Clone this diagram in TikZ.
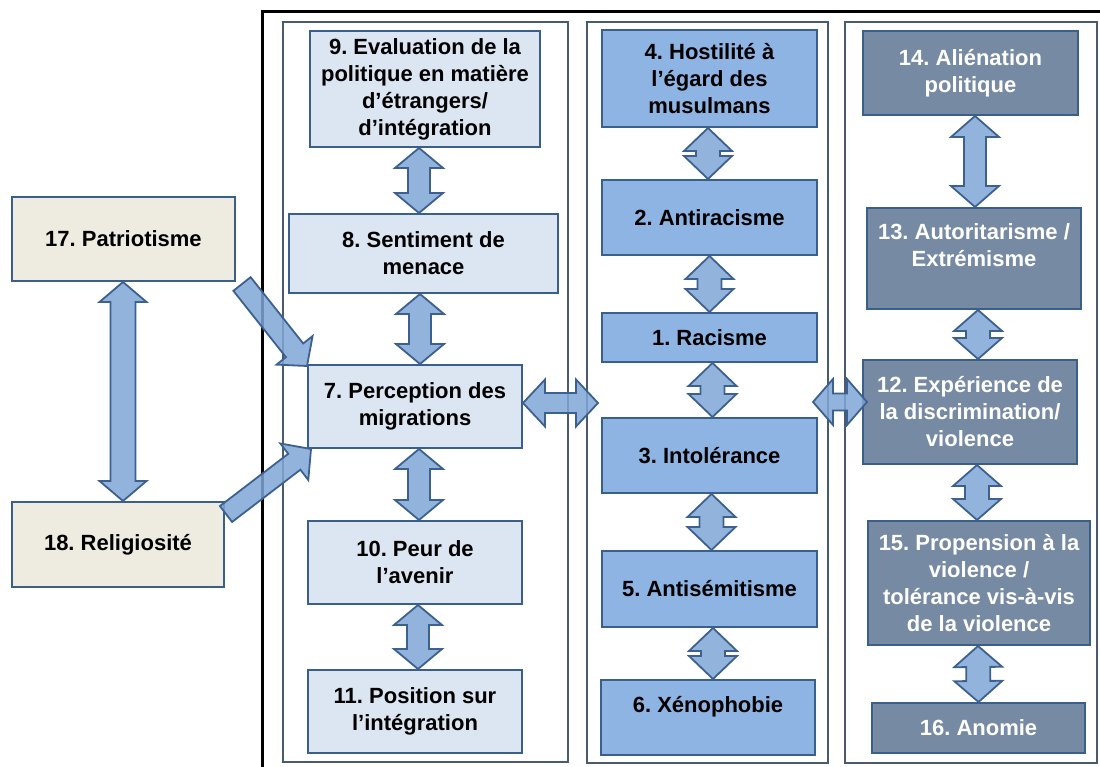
\documentclass[tikz,border=0pt]{standalone}
\usepackage{fontspec}
\setmainfont{Liberation Sans}
\usetikzlibrary{calc}
\definecolor{colAfill}{HTML}{DCE6F2}
\definecolor{colBfill}{HTML}{8EB4E3}
\definecolor{colCfill}{HTML}{768AA3}
\definecolor{tanfill}{HTML}{EEECE1}
\definecolor{boxline}{HTML}{3A5F8B}
\definecolor{arrowfill}{HTML}{7FA6D6}
\definecolor{arrowline}{HTML}{3C6190}
\definecolor{framecol}{HTML}{4A5B70}
\tikzset{
  bx/.style={draw=boxline, line width=2pt, inner sep=0pt, align=center,
    font=\frenchspacing\bfseries\fontsize{22}{27}\selectfont},
  bxA/.style={bx, fill=colAfill},
  bxB/.style={bx, fill=colBfill},
  bxC/.style={bx, fill=colCfill, text=white},
  bxD/.style={bx, fill=tanfill},
  colframe/.style={draw=framecol, line width=2pt, inner sep=0pt},
  barrow/.style={draw=arrowline, line width=1.8pt, fill=arrowfill, fill opacity=0.85, line join=miter},
}
% box: name, style, left, top, right, bottom, text
\newcommand{\bx}[7]{\node[#2, minimum width={#5pt-#3pt}, minimum height={#6pt-#4pt}] (#1) at ({(#3+#5)/2},{(#4+#6)/2}) {#7};}
% double block arrow: from, to, head length, head half width, shaft half width
\newcommand{\barr}[5]{%
  \coordinate (baA) at #1; \coordinate (baB) at #2;
  \coordinate (ba1) at ($(baA)!#3!(baB)$);
  \coordinate (ba2) at ($(baB)!#3!(baA)$);
  \draw[barrow] (baA) -- ($(ba1)!#4!90:(baB)$) -- ($(ba1)!#5!90:(baB)$) -- ($(ba2)!#5!-90:(baA)$) -- ($(ba2)!#4!-90:(baA)$) -- (baB) -- ($(ba2)!#4!90:(baA)$) -- ($(ba2)!#5!90:(baA)$) -- ($(ba1)!#5!-90:(baB)$) -- ($(ba1)!#4!-90:(baB)$) -- cycle;}
% single block arrow: tail, tip, head length, head half width, shaft half width
\newcommand{\sarr}[5]{%
  \coordinate (saT) at #1; \coordinate (saP) at #2;
  \coordinate (sa1) at ($(saP)!#3!(saT)$);
  \draw[barrow] ($(saT)!#5!90:(saP)$) -- ($(sa1)!#5!-90:(saT)$) -- ($(sa1)!#4!-90:(saT)$) -- (saP) -- ($(sa1)!#4!90:(saT)$) -- ($(sa1)!#5!90:(saT)$) -- ($(saT)!#5!-90:(saP)$) -- cycle;}
\begin{document}
\begin{tikzpicture}[x=1pt, y=-1pt]
\useasboundingbox[fill=white] (0,0) rectangle (1100,767);
% outer black frame (open at right and bottom)
\draw[line width=3pt] (262,780) -- (262,12) -- (1110,12);
% column frames
\bx{col1}{colframe}{283}{22}{568}{762}{}
\bx{col2}{colframe}{587}{22}{828}{763}{}
\bx{col3}{colframe}{845}{22}{1097}{763}{}
% left boxes
\bx{n17}{bxD}{12}{197}{235}{281}{17. Patriotisme}
\bx{n18}{bxD}{12}{502}{224}{587}{18. Religiosité}
% column 1
\bx{n9}{bxA}{310}{31}{540}{147}{9. Evaluation de la\\politique en matière\\d’étrangers/\\d’intégration}
\bx{n8}{bxA}{289}{214}{558}{293}{8. Sentiment de\\menace}
\bx{n7}{bxA}{308}{365}{522}{448}{7. Perception des\\migrations}
\bx{n10}{bxA}{308}{521}{522}{604}{10. Peur de\\l’avenir}
\bx{n11}{bxA}{308}{670}{522}{753}{11. Position sur\\l’intégration}
% column 2
\bx{n4}{bxB}{602}{30}{817}{127}{4. Hostilité à\\l’égard des\\musulmans}
\bx{n2}{bxB}{602}{180}{817}{255}{2. Antiracisme}
\bx{n1}{bxB}{602}{313}{817}{362}{1. Racisme}
\bx{n3}{bxB}{602}{418}{817}{493}{3. Intolérance}
\bx{n5}{bxB}{602}{551}{817}{627}{5. Antisémitisme}
\bx{n6}{bxB}{601}{680}{815}{755}{6. Xénophobie\\\mbox{}}
% column 3
\bx{n14}{bxC}{863}{31}{1078}{115}{14. Aliénation\\politique}
\bx{n13}{bxC}{867}{208}{1081}{309}{13. Autoritarisme /\\Extrémisme\\\mbox{}}
\bx{n12}{bxC}{863}{360}{1077}{464}{12. Expérience de\\la discrimination/\\violence}
\bx{n15}{bxC}{868}{521}{1090}{645}{15. Propension à la\\violence /\\tolérance vis-à-vis\\de la violence}
\bx{n16}{bxC}{872}{703}{1085}{753}{16. Anomie}
% arrows column 1
\barr{($(n9.south)+(-6,0)$)}{($(n8.north)+(-4.5,0)$)}{20pt}{24pt}{11pt}
\barr{($(n8.south)+(-3.5,0)$)}{($(n7.north)+(5,0)$)}{20pt}{24pt}{11pt}
\barr{($(n7.south)+(4,0)$)}{($(n10.north)+(4,0)$)}{20pt}{24pt}{11pt}
\barr{($(n10.south)+(3,0)$)}{($(n11.north)+(3,0)$)}{20pt}{24pt}{11pt}
% arrows column 2
\barr{($(n4.south)+(-1.5,0)$)}{($(n2.north)+(-1.5,0)$)}{23pt}{24pt}{12pt}
\barr{($(n2.south)+(0,0)$)}{($(n1.north)+(0,0)$)}{23pt}{24pt}{12pt}
\barr{($(n1.south)+(3,0)$)}{($(n3.north)+(3,0)$)}{23pt}{24pt}{12pt}
\barr{($(n3.south)+(2,0)$)}{($(n5.north)+(2,0)$)}{23pt}{24pt}{12pt}
\barr{($(n5.south)+(3.5,0)$)}{($(n6.north)+(5,0)$)}{23pt}{24pt}{12pt}
% arrows column 3
\barr{($(n14.south)+(4.5,0)$)}{($(n13.north)+(1,0)$)}{21pt}{24pt}{11pt}
\barr{($(n13.south)+(4,0)$)}{($(n12.north)+(8,0)$)}{21pt}{24pt}{12pt}
\barr{($(n12.south)+(7,0)$)}{($(n15.north)+(-2,0)$)}{21pt}{24pt}{12pt}
\barr{($(n15.south)+(-1,0)$)}{($(n16.north)+(0,0)$)}{21pt}{24pt}{12pt}
% left arrows
\barr{($(n17.south)+(-0.5,0)$)}{($(n18.north)+(5,0)$)}{20pt}{23.5pt}{12.5pt}
\sarr{($(n17.south east)+(6,2)$)}{($(n7.north west)+(0,2)$)}{20pt}{23pt}{11pt}
\sarr{($(n18.north east)+(1,13)$)}{($(n7.south west)+(4,0)$)}{21pt}{23pt}{10pt}
% horizontal arrows
\coordinate (m7) at (598,403);
\barr{(n7.east |- m7)}{(m7)}{22pt}{23.5pt}{10pt}
\coordinate (m23) at (813,402);
\barr{(m23)}{($(n12.west |- m23)+(5,0)$)}{20pt}{23pt}{8.5pt}
\end{tikzpicture}
\end{document}
